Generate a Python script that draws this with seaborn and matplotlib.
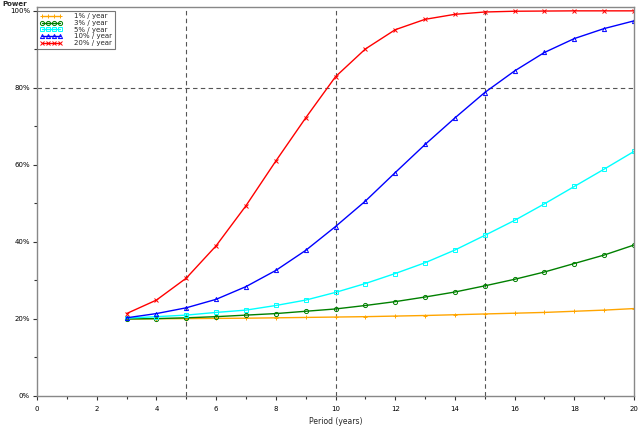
import numpy as np
import pandas as pd
import matplotlib
matplotlib.use("Agg")
import matplotlib.pyplot as plt
import seaborn as sns
from matplotlib.ticker import MultipleLocator, FuncFormatter

years = list(range(3, 21))
series_names = ["1% / year", "3% / year", "5% / year", "10% / year", "20% / year"]
p1 = [20.0, 20.05, 20.1, 20.15, 20.2, 20.3, 20.4, 20.5, 20.6, 20.75, 20.9, 21.1, 21.3, 21.5, 21.7, 22.0, 22.3, 22.7]
p3 = [20.0, 20.1, 20.3, 20.6, 21.0, 21.4, 22.0, 22.6, 23.5, 24.5, 25.7, 27.0, 28.6, 30.3, 32.2, 34.4, 36.6, 39.2]
p5 = [20.2, 20.6, 21.0, 21.7, 22.3, 23.5, 24.9, 26.9, 29.2, 31.8, 34.6, 37.9, 41.7, 45.6, 49.9, 54.4, 58.9, 63.5]
p10 = [20.3, 21.4, 22.9, 25.1, 28.4, 32.6, 37.8, 44.0, 50.6, 58.0, 65.3, 72.2, 78.8, 84.4, 89.2, 92.8, 95.4, 97.4]
p20 = [21.4, 24.9, 30.6, 39.0, 49.4, 61.0, 72.2, 82.9, 90.1, 95.1, 97.8, 99.1, 99.7, 99.9, 99.95, 100.0, 100.0, 100.0]
colors = ["#FFA500", "#008000", "#00FFFF", "#0000FF", "#FF0000"]
markers = ["+", "o", "s", "^", "x"]

sns.set_style("white")
plt.rcParams['font.family'] = ['DejaVu Sans']

fig = plt.figure(figsize=(6.4, 4.28), dpi=100)
ax = fig.add_axes([37/640, 1 - 396/428, (634 - 37)/640, (396 - 7)/428])

for name, vals, c, m in zip(series_names, [p1, p3, p5, p10, p20], colors, markers):
    d = pd.DataFrame({"Period": years, "Power": vals})
    kw = dict(markerfacecolor="none") if m in ("o", "s", "^") else {}
    sns.lineplot(data=d, x="Period", y="Power", color=c, marker=m,
                 linewidth=1.0, markersize=3, markeredgewidth=0.7,
                 markeredgecolor=c, label=name, ax=ax, **kw)

for xv in [5, 10, 15]:
    ax.axvline(xv, color="#555555", linestyle=(0, (4, 3)), linewidth=0.8, zorder=0)
ax.axhline(80, color="#555555", linestyle=(0, (4, 3)), linewidth=0.8, zorder=0)

ax.set_xlim(0, 20)
ax.set_ylim(0, 101)
ax.xaxis.set_major_locator(MultipleLocator(2))
ax.xaxis.set_minor_locator(MultipleLocator(1))
ax.yaxis.set_major_locator(MultipleLocator(20))
ax.yaxis.set_minor_locator(MultipleLocator(10))
ax.yaxis.set_major_formatter(FuncFormatter(lambda v, p: f"{int(round(v))}%"))
ax.tick_params(axis="x", which="major", direction="out", length=3, width=0.8,
               labelsize=5, colors="#333333", labelcolor="black", bottom=True, pad=4)
ax.tick_params(axis="y", which="major", direction="out", length=3, width=0.8,
               labelsize=5, colors="#333333", labelcolor="black", left=True, pad=2)
ax.tick_params(axis="both", which="minor", direction="out", length=2, width=0.8,
               colors="#333333", left=True, bottom=True)
for sp in ax.spines.values():
    sp.set_color("#888888")
    sp.set_linewidth(1.0)

ax.set_xlabel("Period (years)", fontsize=5.5, labelpad=4)
ax.set_ylabel("")
fig.text(2/640, 1 - 0.5/428, "Power", fontsize=5, fontweight="bold", ha="left", va="top")

leg = ax.legend(loc="upper left", fontsize=5, numpoints=4, handlelength=3.2,
                frameon=True, fancybox=False, edgecolor="#555555",
                borderpad=0.35, labelspacing=0.1, handletextpad=1.8,
                borderaxespad=0.0, bbox_to_anchor=(0.0, 0.99))
leg.get_frame().set_linewidth(0.8)

fig.savefig("out.png", dpi=100)
